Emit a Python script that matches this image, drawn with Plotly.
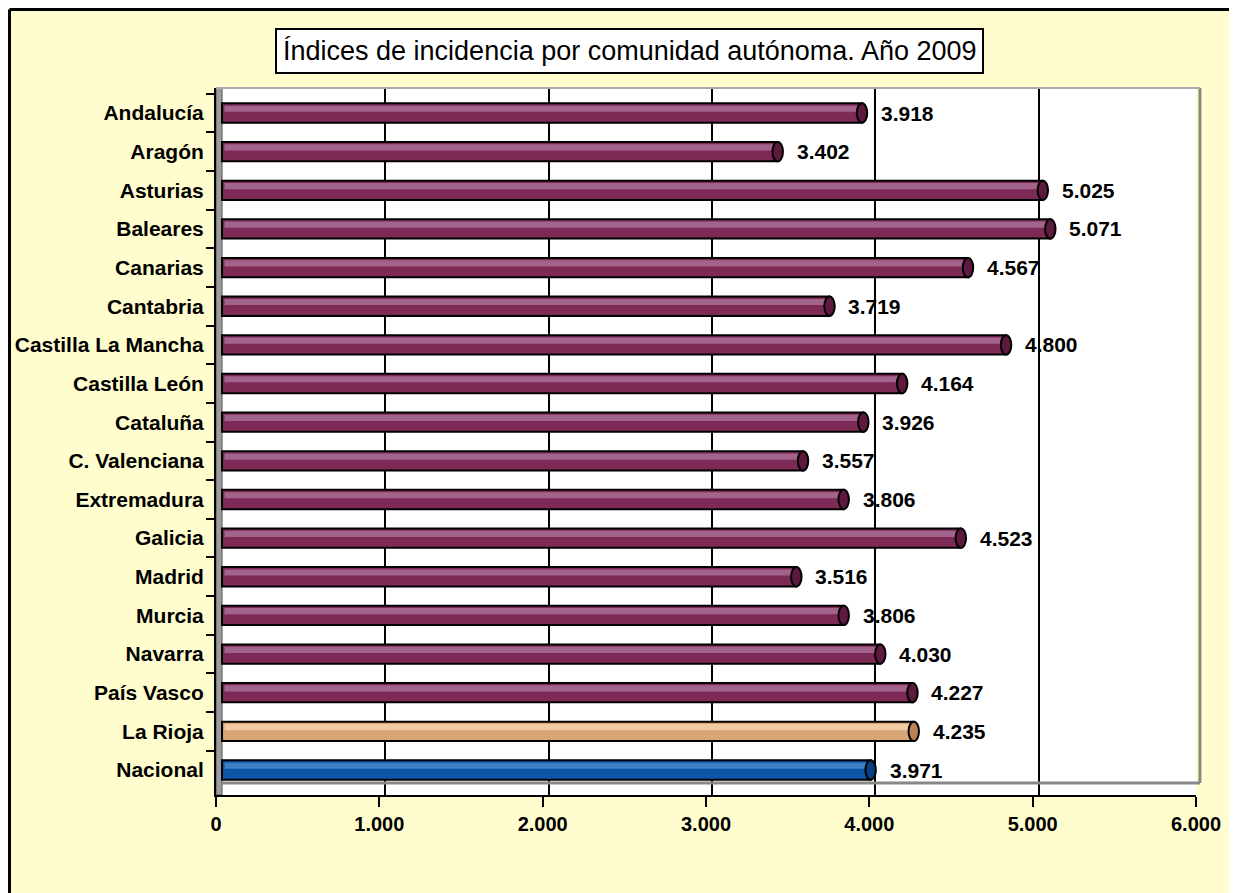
import plotly.graph_objects as go

# ------------------------------------------------------------------
# Data
regions = [
    "Andalucía", "Aragón", "Asturias", "Baleares", "Canarias", "Cantabria",
    "Castilla La Mancha", "Castilla León", "Cataluña", "C. Valenciana",
    "Extremadura", "Galicia", "Madrid", "Murcia", "Navarra", "País Vasco",
    "La Rioja", "Nacional",
]
incidence = [
    3918, 3402, 5025, 5071, 4567, 3719,
    4800, 4164, 3926, 3557,
    3806, 4523, 3516, 3806, 4030, 4227,
    4235, 3971,
]
x_ticks = [0, 1000, 2000, 3000, 4000, 5000, 6000]
title = "Índices de incidencia por comunidad autónoma. Año 2009"

# ------------------------------------------------------------------
# Styling
FONT = "Liberation Sans, Arial, sans-serif"
BG = "#FFFDCD"
DEPTH = 37  # 3D depth of the back wall, in x units (~6 px)

palette = {
    "default": ("#7E2A57", "#A2648A", "#5E1A3E"),
    "La Rioja": ("#D9A476", "#F2CBA5", "#B88356"),
    "Nacional": ("#0B55A8", "#3E7FC6", "#083F80"),
}
base_col, light_col, cap_col = [], [], []
for r in regions:
    b, l, c = palette.get(r, palette["default"])
    base_col.append(b)
    light_col.append(l)
    cap_col.append(c)

fig = go.Figure()

# cylinder body (drawn on the back-wall axis, shifted by the 3D depth)
fig.add_trace(
    go.Bar(
        x=incidence, y=regions, orientation="h", xaxis="x2",
        width=0.5, offset=-0.25,
        marker=dict(color=base_col, line=dict(color="black", width=2)),
        hoverinfo="x+y", showlegend=False,
    )
)
# highlight band on the upper half
fig.add_trace(
    go.Bar(
        x=[v - 30 for v in incidence], y=regions, orientation="h", xaxis="x2",
        width=0.16, offset=-0.19, base=15,
        marker=dict(color=light_col, line=dict(width=0)),
        hoverinfo="skip", showlegend=False,
    )
)

shapes = []
# left wall of the 3D box
shapes.append(dict(
    type="rect", xref="x", yref="paper", x0=0, x1=DEPTH, y0=0.0, y1=1.0,
    fillcolor="#9C9C9C", line=dict(color="#555555", width=1), layer="below",
))
# floor line, right edge and top edge of back wall
shapes.append(dict(
    type="line", xref="paper", yref="paper", x0=0.006, x1=1.004, y0=0.017, y1=0.017,
    line=dict(color="#888888", width=3),
))
shapes.append(dict(
    type="line", xref="paper", yref="paper", x0=1.004, x1=1.004, y0=0.017, y1=1.0,
    line=dict(color="#888888", width=3),
))
shapes.append(dict(
    type="line", xref="paper", yref="paper", x0=0.0, x1=1.004, y0=1.0, y1=1.0,
    line=dict(color="#AAAAAA", width=2),
))
# cylinder end caps
for i, v in enumerate(incidence):
    shapes.append(dict(
        type="circle", xref="x2", yref="y",
        x0=v - 32, x1=v + 32, y0=i - 0.25, y1=i + 0.25,
        fillcolor=cap_col[i], line=dict(color="black", width=2),
    ))

# outer frame (left and top edges of the chart area)
shapes.append(dict(
    type="line", xref="paper", yref="paper",
    x0=-0.2107, x1=-0.2107, y0=-0.2, y1=1.111, line=dict(color="black", width=3),
))
shapes.append(dict(
    type="line", xref="paper", yref="paper",
    x0=-0.2107, x1=1.1, y0=1.111, y1=1.111, line=dict(color="black", width=3),
))

annotations = []
for r, v in zip(regions, incidence):
    annotations.append(dict(
        x=v, y=r, xref="x2", yref="y", text=f"{v:,}".replace(",", "."),
        showarrow=False, xanchor="left", xshift=17,
        font=dict(family=FONT, size=21, color="black", weight="bold"),
    ))
annotations.append(dict(
    x=0.4224, y=1.052, xref="paper", yref="paper", text=title,
    showarrow=False, xanchor="center", yanchor="middle",
    bgcolor="white", bordercolor="black", borderwidth=2, borderpad=6,
    font=dict(family=FONT, size=27, color="black"),
))

fig.update_layout(
    width=1237, height=893,
    margin=dict(l=208, r=49, t=80, b=106, autoexpand=False),
    paper_bgcolor=BG, plot_bgcolor="white",
    barmode="overlay", separators=",.",
    shapes=shapes, annotations=annotations,
    font=dict(family=FONT, size=20, color="black"),
    xaxis=dict(
        range=[0, 6000], tickvals=x_ticks, tickformat=",d",
        showgrid=False,
        showline=True, linecolor="black", linewidth=2,
        ticks="outside", ticklen=10, tickwidth=2, tickcolor="black",
        zeroline=False,
        tickfont=dict(family=FONT, size=20, weight="bold"),
    ),
    xaxis2=dict(
        overlaying="x", side="bottom", range=[-DEPTH, 6000 - DEPTH],
        tickvals=x_ticks[1:-1], showticklabels=False, ticks="",
        showgrid=True, gridcolor="black", gridwidth=2,
        showline=False, zeroline=False,
    ),
    yaxis=dict(
        type="category", categoryorder="array", categoryarray=regions,
        range=[len(regions) - 1 + 0.647, -0.647],
        showline=True, linecolor="black", linewidth=2,
        ticks="outside", ticklen=8, tickwidth=2, tickcolor="black",
        tickson="boundaries", showgrid=False, ticklabelstandoff=6,
        tickfont=dict(family=FONT, size=21, weight="bold"),
    ),
)

fig.write_html("out.html")
